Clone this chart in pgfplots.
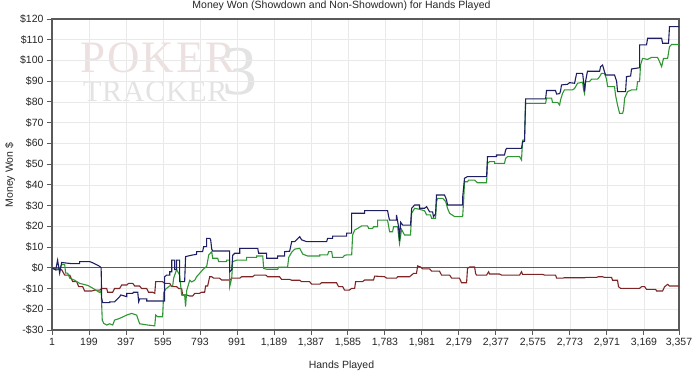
\documentclass[border=0pt]{standalone}
\usepackage{pgfplots}
\pgfplotsset{compat=1.18}
\usepackage{fontspec}
\setmainfont{Liberation Sans}
\newfontfamily\wmfont{Liberation Serif}
\definecolor{cblue}{HTML}{1E1E64}
\definecolor{cgreen}{HTML}{2E9632}
\definecolor{cred}{HTML}{7E2424}
\definecolor{frame}{HTML}{5A5A5A}
\definecolor{gridc}{HTML}{E9E9E9}
\definecolor{wmpink}{HTML}{EDE0E0}
\definecolor{wmgray}{HTML}{E3E3E3}
\begin{document}
\begin{tikzpicture}[x=1pt,y=1pt]
\path[use as bounding box] (0,0) rectangle (700,372);
% watermark
\node[anchor=base west, inner sep=0pt, text=wmpink, font=\wmfont\fontsize{45}{45}\selectfont] at (80,299) {P\hspace{2pt}O\hspace{2pt}K\hspace{2pt}E\hspace{2pt}R};
\node[anchor=base west, inner sep=0pt, text=wmgray, font=\wmfont\fontsize{30}{30}\selectfont] at (83,270) {T\hspace{0.7pt}R\hspace{0.7pt}A\hspace{0.7pt}C\hspace{0.7pt}K\hspace{0.7pt}E\hspace{0.7pt}R};
\node[anchor=base west, inner sep=0pt, text=wmgray, font=\wmfont\fontsize{70}{70}\selectfont] at (222,277) {3};
\begin{axis}[
  at={(52pt,42pt)}, anchor=south west,
  scale only axis, width=627pt, height=311pt,
  xmin=1, xmax=3357, ymin=-30, ymax=120,
  xtick={1,199,397,595,793,991,1189,1387,1585,1783,1981,2179,2377,2575,2773,2971,3169,3357},
  ytick={-30,-20,-10,0,10,20,30,40,50,60,70,80,90,100,110,120},
  yticklabels={-\$30,-\$20,-\$10,\$0,\$10,\$20,\$30,\$40,\$50,\$60,\$70,\$80,\$90,\$100,\$110,\$120},
  /pgf/number format/1000 sep={,},
  /pgf/number format/assume math mode=true,
  xtick pos=bottom, ytick pos=left,
  tick align=outside, major tick length=5pt,
  grid=major, major grid style={draw=gridc, line width=0.7pt},
  axis line style={draw=frame, line width=1.3pt},
  tick style={draw=frame, line width=0.9pt},
  ticklabel style={font=\fontsize{10.5}{12}\selectfont, text=black!85},
  clip=true,
]
\addplot[draw=frame, line width=1.3pt] coordinates {(1,0) (3357,0)};
% red
\addplot[draw=cred, line width=1.1pt] coordinates {
(1,0) (26,-1) (42,-0.5) (53,-1) (69,-3.5) (96,-3.5) (112,-6.7) (133,-6.7) (144,-9.1) (165,-9.1)
(176,-11.2) (213,-11.2) (229,-10.8) (256,-10.8) (267,-10) (294,-10) (299,-11.8) (326,-11.8) (336,-10) (363,-10)
(374,-8.3) (401,-8.3) (411,-7.5) (433,-7.5) (444,-8.8) (470,-8.8) (481,-10) (508,-10) (518,-11.8) (540,-11.8)
(551,-12.3) (556,-6.7) (593,-6.7) (604,-7.5) (631,-7.5) (642,-9.1) (668,-9.1) (679,-10) (695,-10) (700,-13.1)
(722,-13.1) (738,-13.6) (754,-13.6) (765,-12.3) (791,-12.3) (802,-11.8) (818,-11.8) (823,-8.8) (834,-8.8) (845,-4.3)
(856,-4.3) (866,-5) (898,-5) (909,-5.9) (952,-5.9) (963,-5) (1006,-5) (1016,-4.3) (1075,-4.3) (1086,-3.5)
(1145,-3.5) (1155,-4.3) (1219,-4.3) (1230,-5.6) (1273,-5.6) (1284,-6) (1327,-6) (1337,-6.7) (1380,-6.7) (1391,-7.9)
(1434,-7.9) (1444,-7.2) (1524,-7.2) (1535,-9.1) (1557,-9.1) (1567,-10.8) (1583,-10.8) (1594,-10.7) (1605,-9.9) (1621,-9.9)
(1626,-6.7) (1663,-6.7) (1674,-5.9) (1722,-5.9) (1728,-4) (1781,-4.3) (1792,-5) (1845,-5) (1851,-4.3) (1915,-4.3)
(1926,-3.5) (1936,-2.7) (1952,-2.7) (1958,0.9) (1974,0.4) (1984,-0.5) (2022,-0.5) (2033,-1.6) (2075,-1.6) (2086,-3.5)
(2129,-3.5) (2140,-5) (2182,-5) (2193,-7.2) (2220,-7.2) (2225,-0.3) (2236,0.4) (2263,0.4) (2268,-2.7) (2273,-3.5)
(2327,-3.5) (2338,-1.9) (2343,-3) (2396,-3) (2407,-3.5) (2504,-3.5) (2514,-1.9) (2520,-3.2) (2627,-3.2) (2637,-3.5)
(2696,-3.5) (2702,-5) (2734,-5) (2744,-4.8) (2851,-4.8) (2862,-4.6) (2916,-4.6) (2926,-4.3) (2948,-4.3) (2958,-4.6)
(2996,-4.6) (3001,-6) (3028,-6) (3033,-9.1) (3044,-9.9) (3146,-9.9) (3157,-9.1) (3173,-9.1) (3183,-10.4) (3232,-10.4)
(3237,-11.2) (3269,-11.2) (3280,-9.1) (3296,-8) (3306,-8.8) (3357,-8.8)
};
% green
\addplot[draw=cgreen, line width=1.1pt] coordinates {
(1,0) (21,-1) (42,0) (53,1.5) (69,1.5) (74,-2.6) (85,-2.6) (96,-5) (122,-6) (149,-7.5)
(192,-8.5) (213,-9.5) (240,-11) (256,-11.9) (264,-11) (270,-25.2) (278,-26.8) (294,-27.6) (310,-27) (326,-27.6)
(336,-25.2) (363,-24.4) (401,-22.8) (427,-22) (454,-22.8) (470,-27) (513,-27.6) (551,-28) (556,-22.8) (567,-23.6)
(593,-23.6) (599,-12) (609,-10.3) (631,-8.7) (647,-8.7) (652,-5) (668,-0.9) (684,-3.5) (695,-13.1) (711,-13.1)
(716,-18.7) (722,-11) (738,-6) (749,-6.8) (765,-6) (775,-4.3) (791,-2.7) (807,-1) (829,0.7) (840,6.2)
(856,7.8) (861,4.6) (888,4.6) (893,3) (936,3) (936,3.7) (952,3.7) (952,-9.1) (963,-5) (968,3)
(990,3.7) (1043,3.7) (1043,5) (1096,5) (1096,5.7) (1129,5.7) (1134,-0.3) (1150,-0.7) (1209,-0.7) (1214,0.3)
(1262,0.3) (1268,5) (1284,7.5) (1300,9) (1327,9.4) (1343,6.6) (1369,5.7) (1434,5.7) (1434,6.2) (1476,6.2)
(1482,7.8) (1498,7.8) (1503,5) (1557,5) (1567,6) (1578,6.2) (1605,6.2) (1610,15.8) (1621,18.2) (1637,19)
(1658,20.2) (1690,20.2) (1696,19) (1717,19) (1722,19.8) (1744,19.8) (1744,23) (1797,23) (1808,17.4) (1824,17.4)
(1829,19.8) (1851,19.8) (1861,11.8) (1872,18.5) (1888,15.8) (1920,15.8) (1926,26.3) (1942,28.7) (1968,28.2) (1995,27.5)
(2006,25.5) (2027,25.5) (2033,23.9) (2054,23.9) (2059,32) (2065,33.5) (2092,33.5) (2108,32) (2118,28.7) (2129,26.3)
(2156,24.7) (2199,24.7) (2204,32) (2209,41.5) (2225,41.5) (2231,42.3) (2263,42.3) (2279,41) (2327,41) (2332,50.4)
(2343,51.2) (2370,51.2) (2370,50.4) (2423,50.4) (2429,52.8) (2439,53.6) (2504,53.6) (2514,52) (2520,61.6) (2530,61.6)
(2536,79.3) (2643,79.3) (2648,81.8) (2675,81.8) (2680,79.8) (2707,79.8) (2718,78.5) (2723,81) (2734,84.2) (2744,85.8)
(2787,85.8) (2798,86.5) (2814,89) (2841,89.5) (2846,86) (2851,84.2) (2857,89.8) (2878,89.8) (2889,91) (2921,91)
(2932,92.2) (2942,93.8) (2958,93.8) (2969,91) (2975,87.4) (3012,87.4) (3017,83.4) (3028,78.5) (3039,74.5) (3055,74.5)
(3060,76) (3066,81.8) (3082,85) (3103,85.8) (3130,85.8) (3135,89.8) (3146,89.8) (3151,97.8) (3162,101) (3189,100.5)
(3210,101.5) (3242,101.5) (3253,99.4) (3264,97) (3274,101) (3296,101) (3306,106.6) (3317,107.7) (3357,107.7)
};
% blue
\addplot[draw=cblue, line width=1.1pt] coordinates {
(1,0) (21,-1) (31,3.7) (42,-2.6) (53,2.6) (58,2.5) (106,2) (149,2) (149,3) (203,3)
(219,2.4) (240,1.5) (256,0.7) (264,0) (267,-14.7) (272,-16.8) (310,-16.8) (310,-16.4) (336,-16.4) (363,-14)
(369,-13.1) (401,-13.9) (401,-12.3) (433,-12.3) (438,-11.8) (460,-11.8) (465,-16.4) (470,-15) (508,-15) (508,-16)
(604,-16) (604,-4.3) (615,-3.5) (631,-3.5) (631,-1.9) (642,-1.9) (642,3.7) (658,3.7) (658,-0.9) (668,-0.9)
(668,3.7) (684,3.7) (684,-6.7) (711,-6.7) (716,5.4) (749,6.1) (775,6.5) (775,7.8) (807,7.8) (813,10.2)
(829,10.2) (829,14.2) (845,14.2) (850,13.7) (856,9) (861,8.1) (952,8.1) (952,-1.9) (963,-1) (968,6)
(979,7) (1006,7) (1006,9.4) (1102,9.4) (1107,7) (1150,7) (1150,4.6) (1209,4.6) (1209,5.7) (1246,5.7)
(1246,7.8) (1273,8) (1284,12.6) (1300,12.6) (1327,15) (1337,13.5) (1364,12.6) (1471,12.6) (1476,14.2) (1503,14.2)
(1503,15.3) (1578,15.3) (1578,16.7) (1605,16.7) (1605,26.3) (1674,26.3) (1674,27.6) (1797,27.6) (1803,24.7) (1808,23)
(1845,23) (1845,25.5) (1856,19.8) (1861,13) (1867,22) (1878,20.6) (1920,20.6) (1926,28.7) (1942,30.3) (1968,30.3)
(1968,28.7) (1995,28.7) (2006,29.5) (2022,27) (2038,27) (2043,24.7) (2054,26) (2059,35.1) (2102,35.1) (2113,32.7)
(2118,30.3) (2199,30.3) (2199,34) (2209,43.2) (2225,44) (2327,44) (2332,53.6) (2380,53.6) (2380,54.4) (2423,54.4)
(2429,56.8) (2434,57.6) (2514,57.6) (2520,60.8) (2530,61) (2536,81.5) (2643,81.5) (2648,85.5) (2696,85.5) (2702,83.8)
(2718,84) (2723,85.3) (2728,88.2) (2760,88.5) (2771,89.3) (2798,89) (2809,93.8) (2841,93.8) (2846,90) (2851,85)
(2857,90) (2867,94.8) (2932,94.8) (2937,97) (2948,97.8) (2958,94.6) (2964,93) (3012,93) (3023,90) (3028,85)
(3071,85) (3076,92.2) (3098,92.5) (3103,95.9) (3146,96.5) (3146,107.5) (3183,107.5) (3189,110.7) (3264,110.7) (3269,108.3)
(3301,108.3) (3306,116.3) (3357,116.3)
};
\end{axis}
\node[anchor=base, font=\fontsize{10.5}{12}\selectfont, text=black!85] at (341.5,363) {Money Won (Showdown and Non-Showdown) for Hands Played};
\node[anchor=base, font=\fontsize{10.5}{12}\selectfont, text=black!85] at (341.5,4) {Hands Played};
\node[rotate=90, font=\fontsize{10.5}{12}\selectfont, text=black!85] at (10,197) {Money Won \$};
\end{tikzpicture}
\end{document}
